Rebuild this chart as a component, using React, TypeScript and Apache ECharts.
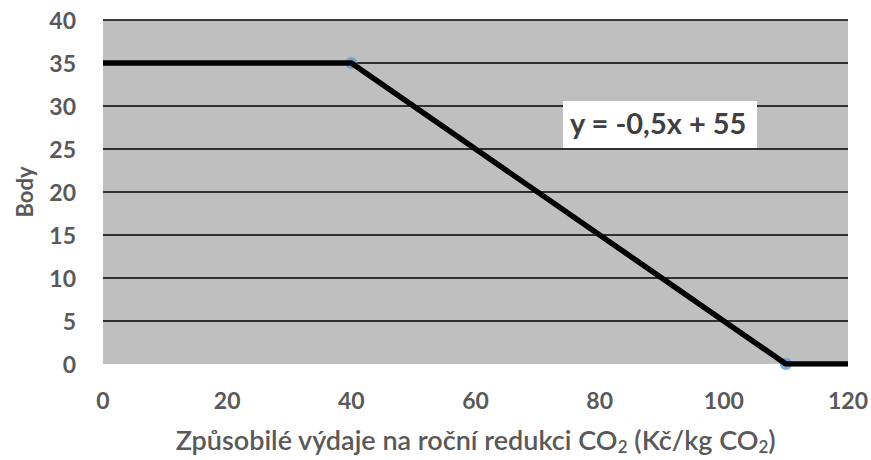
import React, { useEffect, useRef } from "react";
import * as echarts from "echarts";

const linePoints: [number, number][] = [
  [0, 35],
  [40, 35],
  [110, 0],
  [120, 0],
];
const markerPoints: [number, number][] = [
  [40, 35],
  [110, 0],
];
const equationText = "y = -0,5x + 55";
const xAxisTitle = "Způsobilé výdaje na roční redukci CO{sub|2} (Kč/kg CO{sub|2})";
const yAxisTitle = "Body";

export default function App() {
  const ref = useRef<HTMLDivElement>(null);
  useEffect(() => {
    if (!ref.current) return;
    const chart = echarts.init(ref.current, null, { renderer: "svg" });
    const font = "Lato, 'Open Sans', sans-serif";
    const textColor = "#595959";
    chart.setOption({
      animation: false,
      backgroundColor: "#ffffff",
      grid: { left: 103, right: 21, top: 20, bottom: 82, show: true, backgroundColor: "#bfbfbf", borderWidth: 0 },
      xAxis: {
        type: "value",
        min: 0,
        max: 120,
        interval: 20,
        axisLine: { show: false },
        axisTick: { show: false },
        splitLine: { show: false },
        axisLabel: { margin: 24, fontSize: 23, fontWeight: "bold", color: textColor, fontFamily: font },
        name: xAxisTitle,
        nameLocation: "middle",
        nameGap: 59,
        nameTextStyle: {
          fontSize: 27,
          color: textColor,
          fontFamily: font,
          fontWeight: 600,
          rich: { sub: { fontSize: 17, color: textColor, fontFamily: font, fontWeight: 600, verticalAlign: "bottom", padding: [15, 0, 0, 0] } },
        },
      },
      yAxis: {
        type: "value",
        min: 0,
        max: 40,
        interval: 5,
        axisLine: { show: false },
        axisTick: { show: false },
        splitLine: { show: true, showMinLine: false, lineStyle: { color: "#000000", width: 1.5 } },
        axisLabel: { margin: 27, fontSize: 23, fontWeight: "bold", color: textColor, fontFamily: font },
        name: yAxisTitle,
        nameLocation: "middle",
        nameGap: 68,
        nameTextStyle: { fontSize: 22, fontWeight: "bold", color: textColor, fontFamily: font },
      },
      series: [
        {
          type: "scatter",
          data: markerPoints,
          symbolSize: 12,
          itemStyle: { color: "#5b9bd5" },
          z: 1,
        },
        {
          type: "line",
          data: linePoints,
          showSymbol: false,
          lineStyle: { color: "#000000", width: 5.5 },
          z: 2,
        },
      ],
      graphic: [
        {
          type: "rect",
          left: 563,
          top: 101,
          z: 10,
          shape: { width: 194, height: 47 },
          style: { fill: "#ffffff" },
        },
        {
          type: "text",
          left: 570,
          top: 108,
          z: 11,
          style: {
            text: equationText,
            fontSize: 29,
            fontWeight: "bold",
            fontFamily: font,
            fill: "#404040",
          },
        },
      ],
    });
    return () => chart.dispose();
  }, []);
  return <div ref={ref} style={{ position: "fixed", left: 0, top: 0, width: 871, height: 460 }} />;
}
